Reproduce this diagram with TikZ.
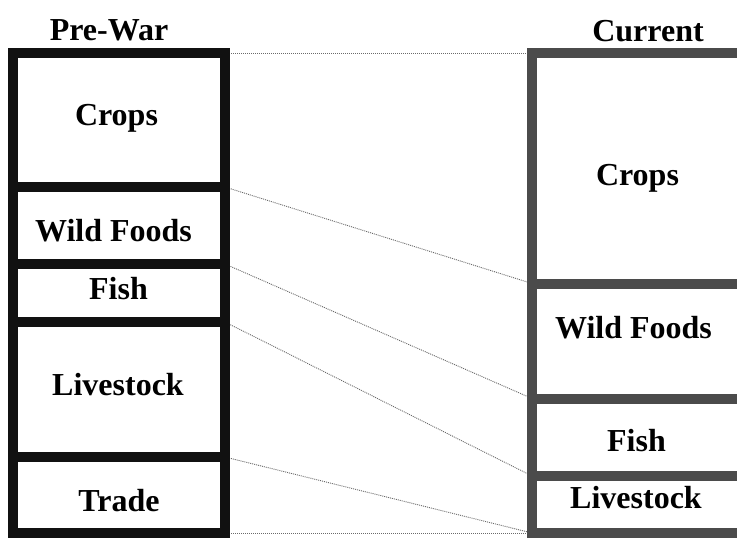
\documentclass[tikz,border=0pt]{standalone}
\usepackage{fontspec}
\setmainfont{Liberation Serif}
\usetikzlibrary{backgrounds}
\definecolor{leftc}{HTML}{111111}
\definecolor{rightc}{HTML}{4B4B4B}
\definecolor{linkc}{HTML}{6A6A6A}
\tikzset{
  cellL/.style={draw=leftc, line width=10pt, rectangle, inner sep=0pt, outer sep=0pt, minimum width=212pt, fill=white},
  cellR/.style={draw=rightc, line width=10pt, rectangle, inner sep=0pt, outer sep=0pt, minimum width=213pt, fill=white},
  lbl/.style={anchor=base, inner sep=0pt, font=\fontsize{32}{38}\selectfont\bfseries},
  link/.style={draw=linkc, line width=0.9pt, dash pattern=on 1pt off 1pt}
}
\begin{document}
\begin{tikzpicture}[x=1pt,y=-1pt]
\useasboundingbox (0,0) rectangle (737,539);
% left column cells
\node[cellL, minimum height=134pt] (lcrops) at (119,120) {};
\node[cellL, minimum height=77pt] (lwild) at (119,225.5) {};
\node[cellL, minimum height=58pt] (lfish) at (119,293) {};
\node[cellL, minimum height=135pt] (llive) at (119,389.5) {};
\node[cellL, minimum height=76pt] (ltrade) at (119,495) {};
% right column cells
\node[cellR, minimum height=230.5pt] (rcrops) at (638.5,168.25) {};
\node[cellR, minimum height=115pt] (rwild) at (638.5,341) {};
\node[cellR, minimum height=77.5pt] (rfish) at (638.5,437.25) {};
\node[cellR, minimum height=57pt] (rlive) at (638.5,504.5) {};
% connectors
\begin{pgfonlayer}{background}
\draw[link] (lcrops.north east) -- (rcrops.north west);
\draw[link] (lcrops.south east) -- (rcrops.south west);
\draw[link] (lwild.south east) -- (rwild.south west);
\draw[link] (lfish.south east) -- (rfish.south west);
\draw[link] (llive.south east) -- (rlive.south west);
\draw[link] (ltrade.south east) -- (rlive.south west);
\end{pgfonlayer}
% labels
\node[lbl] (tpre) at (109,40) {Pre-War};
\node[lbl] (tcur) at (648,41) {Current};
\node[lbl] (tlcrops) at (116.5,125) {Crops};
\node[lbl] (tlwild) at (113.5,241.5) {Wild Foods};
\node[lbl] (tlfish) at (118.5,299) {Fish};
\node[lbl] (tllive) at (118,395) {Livestock};
\node[lbl] (tltrade) at (119,511) {Trade};
\node[lbl] (trcrops) at (637.5,185) {Crops};
\node[lbl] (trwild) at (633.5,338) {Wild Foods};
\node[lbl] (trfish) at (636.5,451) {Fish};
\node[lbl] (trlive) at (636,508) {Livestock};
\end{tikzpicture}
\end{document}
